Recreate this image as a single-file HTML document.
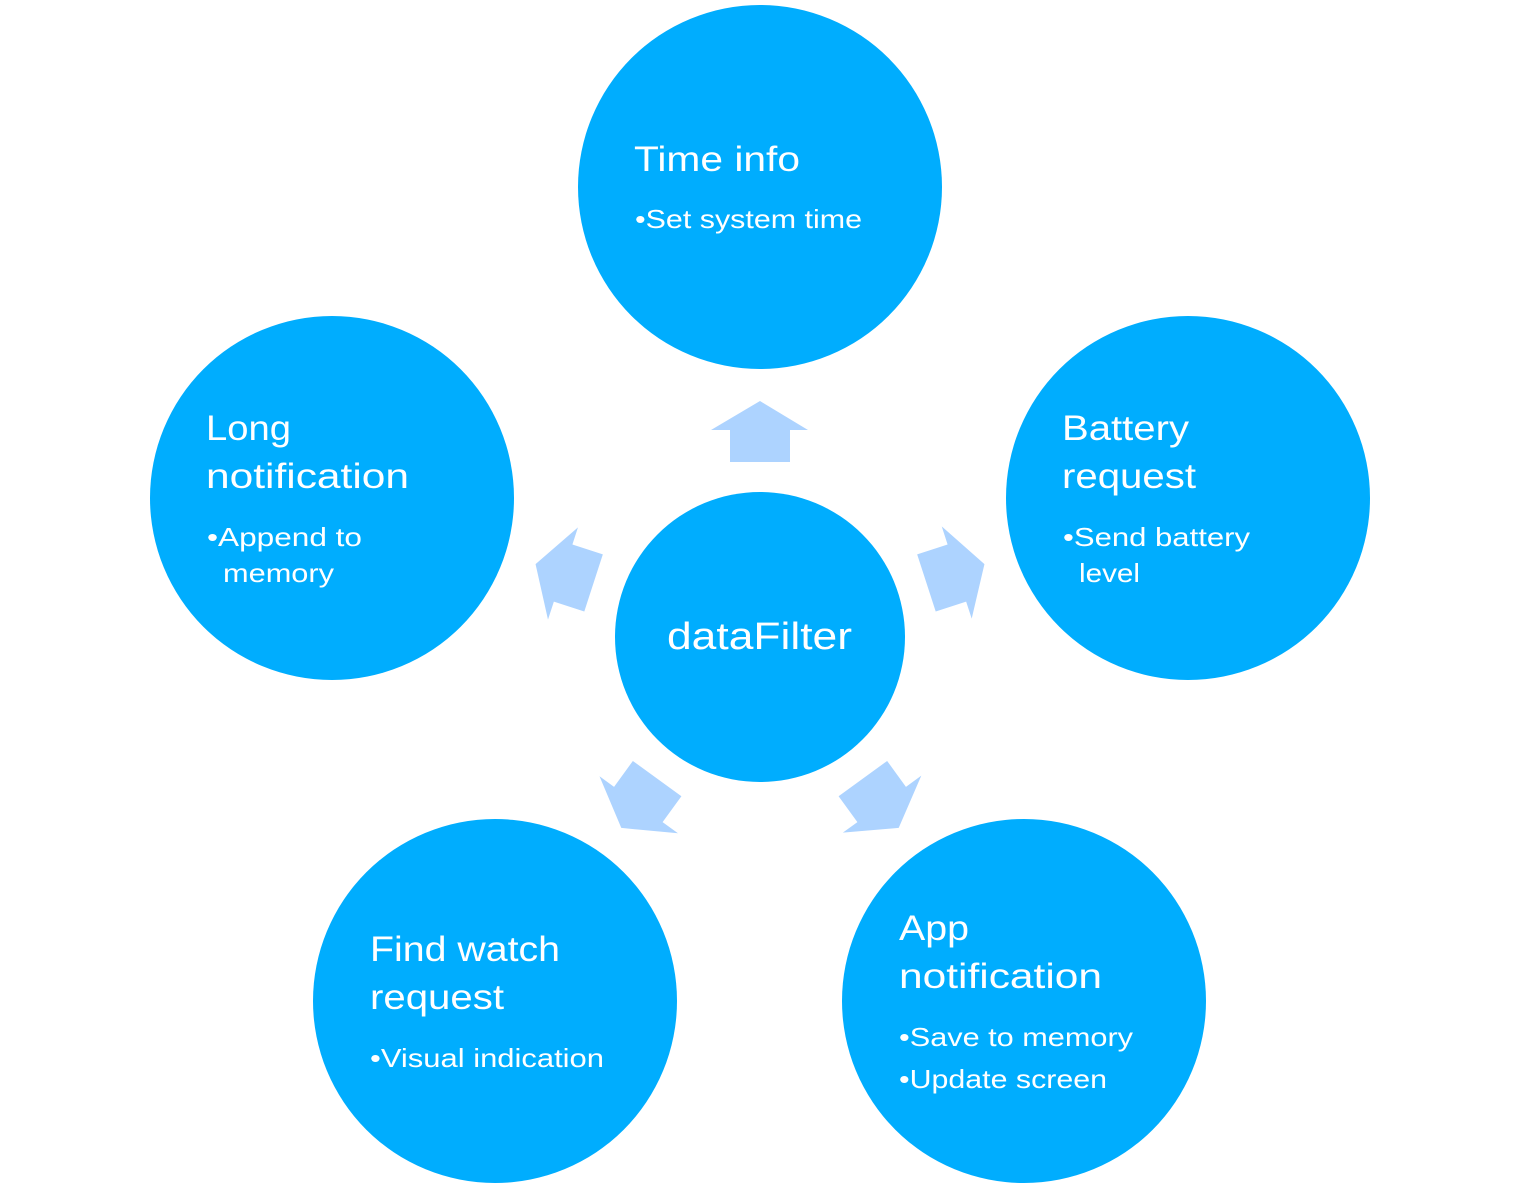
<!DOCTYPE html>
<html><head><meta charset="utf-8"><style>
html,body{margin:0;padding:0;background:#fff;}
svg{display:block;}
text{font-family:"Liberation Sans",sans-serif;fill:#fff;}
.t{font-size:35px;}
.b{font-size:26px;}
</style></head><body>
<svg width="1519" height="1187" viewBox="0 0 1519 1187" xmlns="http://www.w3.org/2000/svg">
<g fill="#ADD3FF">
  <g id="arr"><polygon points="730,462 790,462 790,430 808,430 760,401 711,430 730,430"/></g>
  <use href="#arr" transform="rotate(72 760 637)"/>
  <use href="#arr" transform="rotate(144 760 637)"/>
  <use href="#arr" transform="rotate(216 760 637)"/>
  <use href="#arr" transform="rotate(288 760 637)"/>
</g>
<g fill="#00ADFE">
  <circle cx="760" cy="187" r="182"/>
  <circle cx="1188" cy="498" r="182"/>
  <circle cx="332" cy="498" r="182"/>
  <circle cx="495" cy="1001" r="182"/>
  <circle cx="1024" cy="1001" r="182"/>
  <circle cx="760" cy="637" r="145"/>
</g>
<text x="667" y="649" style="font-size:38px" textLength="185" lengthAdjust="spacingAndGlyphs">dataFilter</text>

<text class="t" x="634" y="171" textLength="166" lengthAdjust="spacingAndGlyphs">Time info</text>
<text class="b" x="635" y="228" textLength="227" lengthAdjust="spacingAndGlyphs">•Set system time</text>

<text class="t" x="1062" y="440" textLength="127" lengthAdjust="spacingAndGlyphs">Battery</text>
<text class="t" x="1062" y="488" textLength="134" lengthAdjust="spacingAndGlyphs">request</text>
<text class="b" x="1063" y="546" textLength="187" lengthAdjust="spacingAndGlyphs">•Send battery</text>
<text class="b" x="1079" y="582" textLength="61" lengthAdjust="spacingAndGlyphs">level</text>

<text class="t" x="206" y="440" textLength="85" lengthAdjust="spacingAndGlyphs">Long</text>
<text class="t" x="206" y="488" textLength="203" lengthAdjust="spacingAndGlyphs">notification</text>
<text class="b" x="207" y="546" textLength="155" lengthAdjust="spacingAndGlyphs">•Append to</text>
<text class="b" x="223" y="582" textLength="111" lengthAdjust="spacingAndGlyphs">memory</text>

<text class="t" x="370" y="961" textLength="190" lengthAdjust="spacingAndGlyphs">Find watch</text>
<text class="t" x="370" y="1009" textLength="134" lengthAdjust="spacingAndGlyphs">request</text>
<text class="b" x="370" y="1067" textLength="234" lengthAdjust="spacingAndGlyphs">•Visual indication</text>

<text class="t" x="899" y="940" textLength="70" lengthAdjust="spacingAndGlyphs">App</text>
<text class="t" x="899" y="988" textLength="203" lengthAdjust="spacingAndGlyphs">notification</text>
<text class="b" x="899" y="1046" textLength="234" lengthAdjust="spacingAndGlyphs">•Save to memory</text>
<text class="b" x="899" y="1088" textLength="208" lengthAdjust="spacingAndGlyphs">•Update screen</text>
</svg>
</body></html>
